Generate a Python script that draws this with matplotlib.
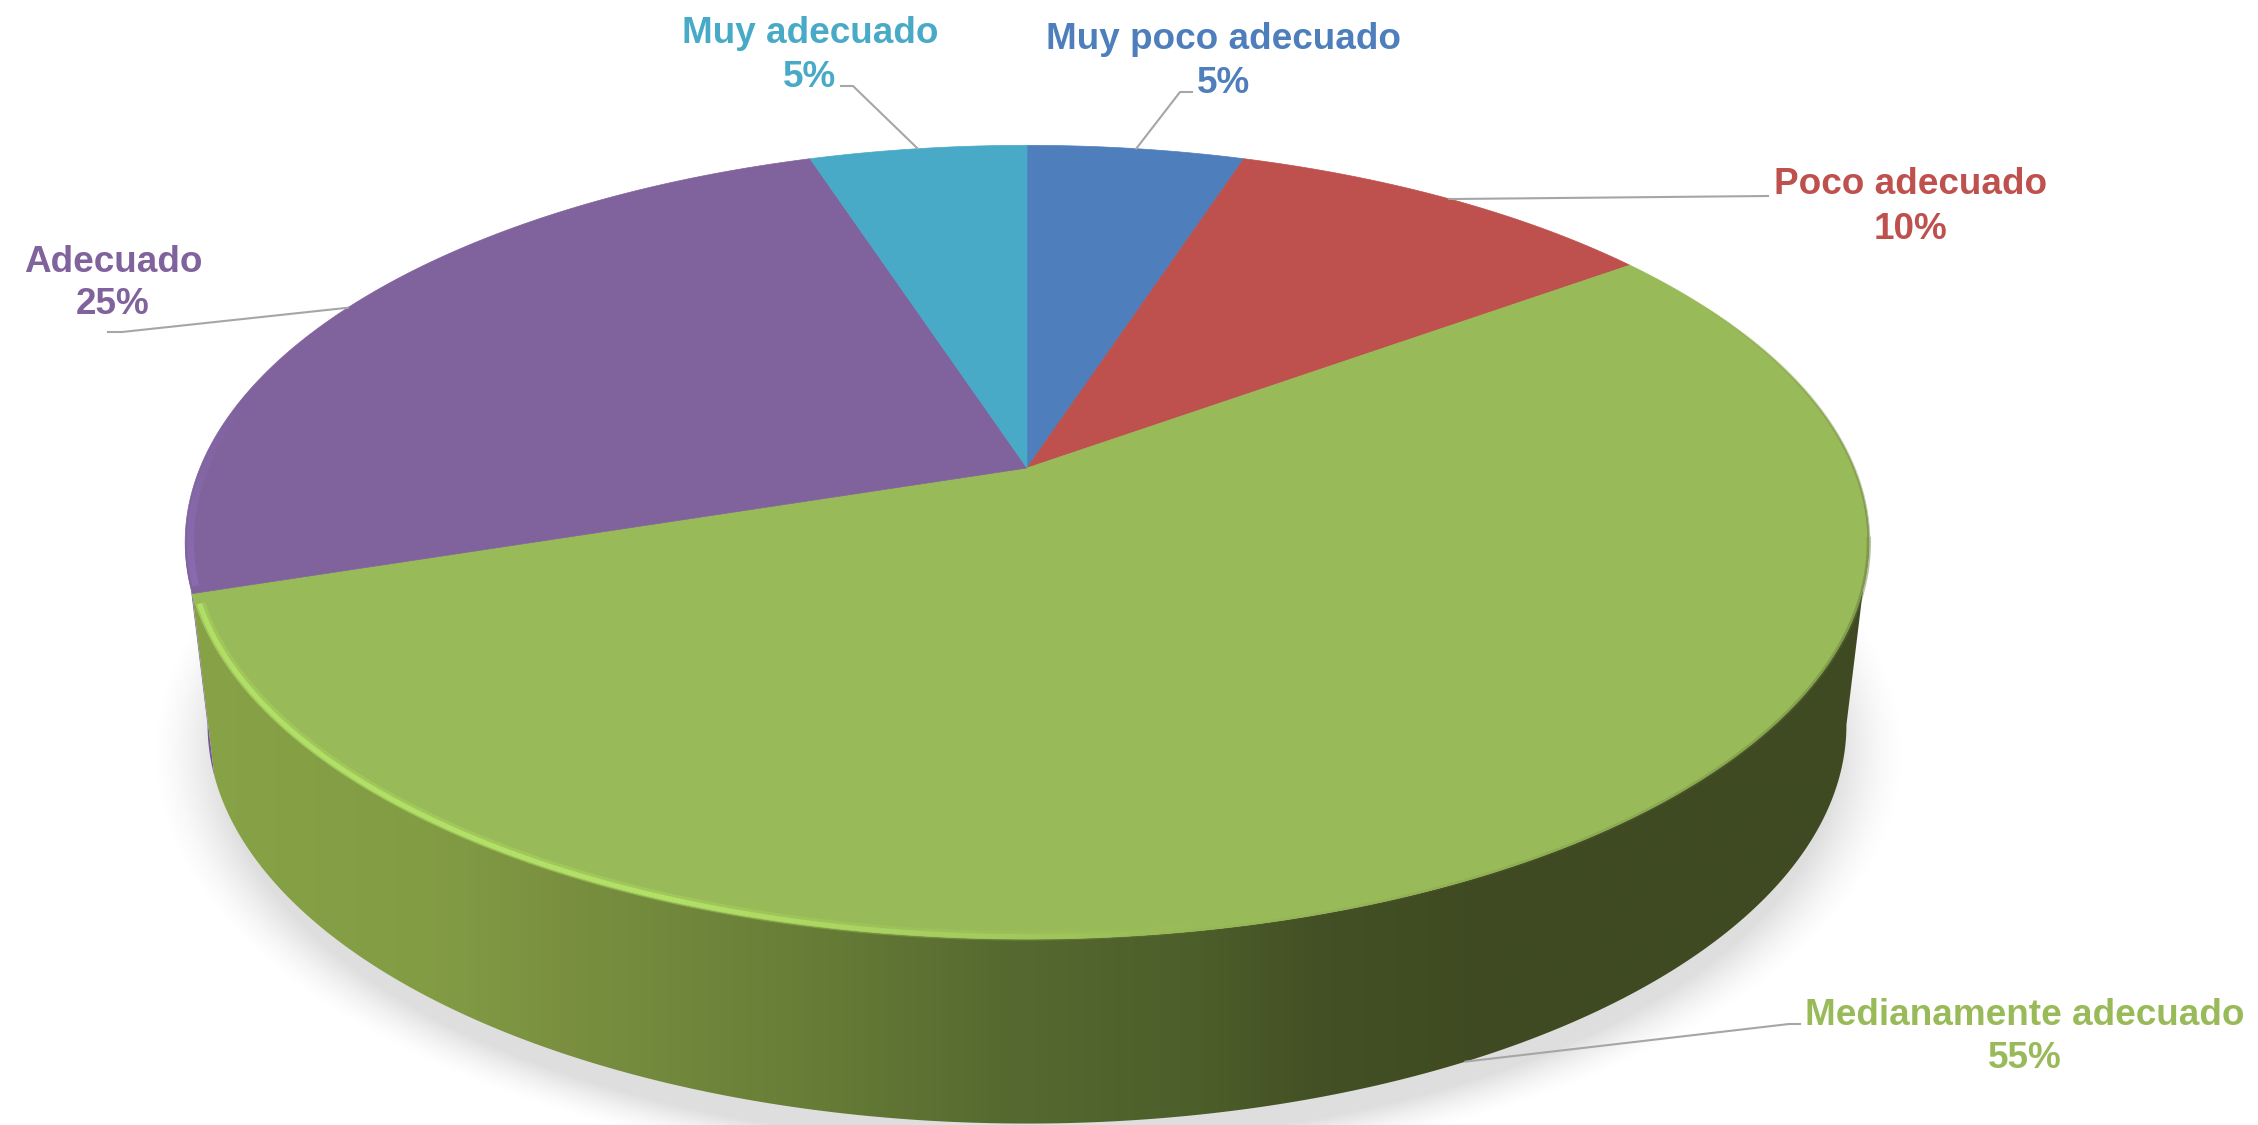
import numpy as np
import matplotlib
matplotlib.use("Agg")
import matplotlib.pyplot as plt
from matplotlib.colors import LinearSegmentedColormap, to_rgb
from matplotlib.collections import LineCollection
from matplotlib.patches import Polygon

# slices clockwise from 12 o'clock
categories = ["Muy poco adecuado", "Poco adecuado", "Medianamente adecuado", "Adecuado", "Muy adecuado"]
values = [5, 10, 55, 25, 5]
colors = ["#4E7FBC", "#BE504D", "#99BA58", "#80629D", "#48AAC6"]

W, H = 2258, 1125
CX = 1027
K = 0.187

# top face and bottom rim of the disc
TOP = dict(a=827, b=383, cy=468)
BOTTOM = dict(a=805, b=385, cy=650)

# text centre x, first baseline, second baseline
label_pos = [(1224, 49, 93), (1911, 194, 239), (2025, 1025, 1068), (113, 272, 314), (810, 43, 87)]
# leader elbow and outer end
leader_pos = [((1180, 92), (1192, 92)),
              ((1454, 199), (1768, 196)),
              ((1789, 1024), (1800, 1024)),
              ((122, 332), (108, 332)),
              ((853, 86), (841, 86))]

wall_x = [190, 430, 560, 800, 1000, 1200, 1330, 1500, 1880]
wall_c = ["#88A247", "#829C44", "#7A9040", "#687E37", "#566A30", "#4C5E2A", "#434F24", "#3F4A22", "#3F4A22"]


def project(deg, face, r=1.0):
    t = np.radians(deg)
    u, v = r * np.sin(t), r * np.cos(t)
    d = 1 + K * v
    return CX + face["a"] * u / d, face["cy"] - face["b"] * v / d


def arc(a0, a1, face, r=1.0, n=300):
    x, y = project(np.linspace(a0, a1, n), face, r)
    return np.column_stack([x, y])


def fade_line(ax, a0, a1, r, color, lw, alpha0, alpha1, zorder):
    # arc drawn segment by segment so the opacity can change along it
    pts = arc(a0, a1, TOP, r, 300)
    segs = np.stack([pts[:-1], pts[1:]], axis=1)
    rgba = np.zeros((len(segs), 4))
    rgba[:, :3] = to_rgb(color)
    rgba[:, 3] = np.linspace(alpha0, alpha1, len(segs))
    ax.add_collection(LineCollection(segs, colors=rgba, linewidths=lw, zorder=zorder, capstyle="butt"))


fig = plt.figure(figsize=(W / 100, H / 100), dpi=100, facecolor="white")
ax = fig.add_axes([0, 0, 1, 1])
ax.set_xlim(0, W)
ax.set_ylim(H, 0)
ax.axis("off")

# soft shadow under the disc
yy, xx = np.mgrid[0:H, 0:W]
dist = np.sqrt(((xx - 1028) / 808) ** 2 + ((yy - 752) / 392) ** 2)
fall = np.clip(1 - (dist - 1) / 0.085, 0, 1)
shadow = np.zeros((H, W, 4))
shadow[..., :3] = 0.58
shadow[..., 3] = 0.3 * fall ** 1.5
ax.imshow(shadow, extent=(0, W, H, 0), aspect="auto", zorder=1, interpolation="bilinear")

edges = np.concatenate([[0], np.cumsum(values)]) / sum(values) * 360

# outline tangents of the disc on the right and left
right_tan = np.degrees(np.arccos(-K))
left_tan = 360 - right_tan

# purple sliver of wall on the far left
wall = np.vstack([arc(edges[3], left_tan, TOP), arc(edges[3], left_tan, BOTTOM)[::-1]])
ax.add_patch(Polygon(wall, closed=True, fc="#73589A", ec="none", zorder=2))

# green wall with a horizontal gradient
grad_map = LinearSegmentedColormap.from_list(
    "wall", [((x - wall_x[0]) / (wall_x[-1] - wall_x[0]), c) for x, c in zip(wall_x, wall_c)])
wall = np.vstack([arc(right_tan, edges[3], TOP), arc(right_tan, edges[3], BOTTOM)[::-1]])
clip = Polygon(wall, closed=True, fc="none", ec="none", transform=ax.transData)
ax.add_patch(clip)
im = ax.imshow(np.linspace(0, 1, 800).reshape(1, -1), cmap=grad_map, vmin=0, vmax=1,
               extent=(wall_x[0], wall_x[-1], 1125, 450), aspect="auto", zorder=3)
im.set_clip_path(clip)
ax.set_xlim(0, W)
ax.set_ylim(H, 0)

# top face
for i, c in enumerate(colors):
    pts = np.vstack([[CX, TOP["cy"]], arc(edges[i], edges[i + 1], TOP)])
    ax.add_patch(Polygon(pts, closed=True, fc=c, ec=c, lw=0.5, zorder=4))

# rim lighting along the top edge
fade_line(ax, 250.5, 200, 0.9945, "#A9D45F", 7, 0.55, 0.5, 5)
fade_line(ax, 200, 168, 0.9945, "#A9D45F", 7, 0.5, 0.0, 5)
fade_line(ax, 250.5, 200, 0.9955, "#B4E468", 3.5, 0.95, 0.95, 5)
fade_line(ax, 200, 172, 0.9955, "#B4E468", 3.5, 0.95, 0.0, 5)
fade_line(ax, 62, 100, 1.0, "#5F7438", 2, 0.0, 0.5, 5)
fade_line(ax, 100, 175, 1.0, "#5F7438", 3, 0.5, 0.0, 5)
fade_line(ax, 253, 282, 0.994, "#8E74BE", 5, 0.7, 0.0, 5)

# leaders and labels
for i, name in enumerate(categories):
    mid = (edges[i] + edges[i + 1]) / 2
    face = BOTTOM if 90 < mid < 252 else TOP
    sx, sy = project(mid, face)
    (ex, ey), (ox, oy) = leader_pos[i]
    ax.plot([sx, ex, ox], [sy, ey, oy], color="#A6A6A6", lw=1.5, zorder=6, solid_joinstyle="round")
    tx, y1, y2 = label_pos[i]
    for txt, y in ((name, y1), ("%d%%" % values[i], y2)):
        ax.text(tx, y, txt, color=colors[i], fontsize=26.6, fontweight="bold",
                family="Liberation Sans", ha="center", va="baseline", zorder=7)

fig.savefig("out.png", dpi=100, facecolor="white")
